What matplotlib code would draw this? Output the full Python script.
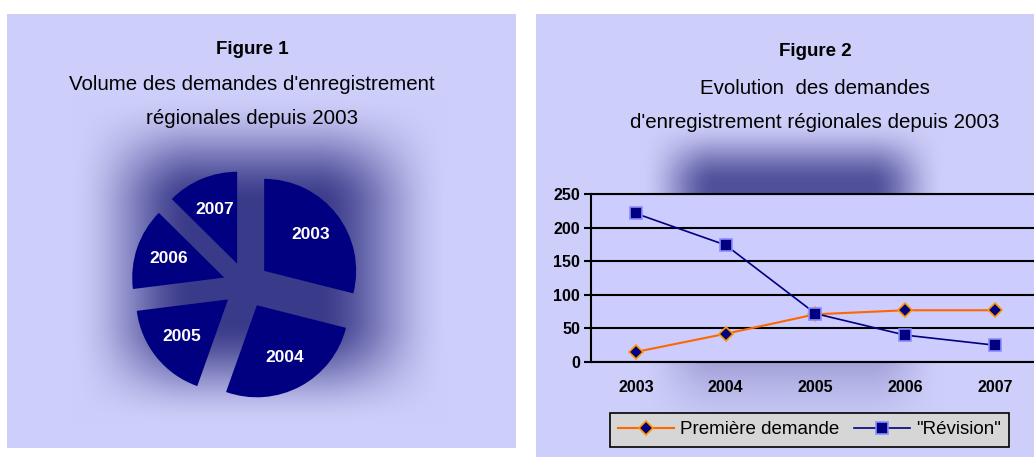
#!/usr/bin/env python3
"""Figures 1 and 2: regional registration requests since 2003."""

import matplotlib
matplotlib.use('Agg')
import matplotlib.pyplot as plt
import numpy as np

plt.rcParams['font.family'] = ['Liberation Sans', 'DejaVu Sans']

# ── Data ───────────────────────────────────────────────────────────
years = ['2003', '2004', '2005', '2006', '2007']
pie_volume = [237, 217, 144, 118, 103]
premiere = [15, 42, 71, 77, 77]
revision = [221, 174, 72, 40, 25]

W, H = 1034, 457
NAVY = '#000080'
ORANGE = '#FF6600'
LAVENDER = np.array([206, 206, 250]) / 255
DARK = np.array([58, 58, 138]) / 255


def ramp(v, o0, i0, i1, o1):
    """1 inside [i0, i1], fading to 0 at o0 / o1."""
    a = np.clip((v - o0) / (i0 - o0), 0, 1)
    b = np.clip((o1 - v) / (o1 - i1), 0, 1)
    a = a * a * (3 - 2 * a)
    b = b * b * (3 - 2 * b)
    return a * b


# ── Background with soft glows ─────────────────────────────────────
yy, xx = np.mgrid[0:H, 0:W] + 0.5
img = np.ones((H, W, 3))
glow_l = ramp(xx, 70, 195, 315, 450) * ramp(yy, 95, 205, 320, 425)
glow_r = 0.85 * ramp(xx, 640, 715, 870, 945) * ramp(yy, 120, 185, 240, 445)
for mask, glow in [((xx >= 7) & (xx <= 516) & (yy >= 14) & (yy <= 448), glow_l),
                   ((xx >= 536) & (yy >= 14), glow_r)]:
    col = LAVENDER[None, None, :] * (1 - glow[..., None]) + DARK[None, None, :] * glow[..., None]
    img[mask] = col[mask]

fig = plt.figure(figsize=(W / 100, H / 100), dpi=100)
bg = fig.add_axes([0, 0, 1, 1])
bg.imshow(img, extent=(0, W, H, 0), aspect='auto', interpolation='bilinear')
bg.set_xlim(0, W)
bg.set_ylim(H, 0)
bg.axis('off')

# ── Titles ─────────────────────────────────────────────────────────
bg.text(252, 50, 'Figure 1', ha='center', va='center', fontsize=13.5, fontweight='bold')
bg.text(252, 85, "Volume des demandes d'enregistrement", ha='center', va='center', fontsize=14.8)
bg.text(252, 118, 'régionales depuis 2003', ha='center', va='center', fontsize=14.8)
bg.text(815, 52, 'Figure 2', ha='center', va='center', fontsize=13.5, fontweight='bold')
bg.text(815, 89, 'Evolution  des demandes', ha='center', va='center', fontsize=14.8)
bg.text(815, 122, "d'enregistrement régionales depuis 2003", ha='center', va='center', fontsize=14.8)

# ── Figure 1: exploded pie ─────────────────────────────────────────
axp = fig.add_axes([0, 0, 1, 1])
axp.patch.set_alpha(0)
wedges, texts = axp.pie(pie_volume, labels=years, colors=[NAVY] * len(years),
                        startangle=90, counterclock=False,
                        center=(246, H - 285), radius=92, explode=[23] * len(years),
                        labeldistance=0.64,
                        textprops=dict(color='white', fontsize=12.5, fontweight='bold',
                                       ha='center', va='center'))
axp.set_aspect('auto')
axp.set_xlim(0, W)
axp.set_ylim(0, H)
axp.axis('off')

# ── Figure 2: lines ────────────────────────────────────────────────
x0, x1, y0, y1 = 591, W, 194, 362
ax = fig.add_axes([x0 / W, (H - y1) / H, (x1 - x0) / W, (y1 - y0) / H])
ax.set_facecolor('#CCCCFF')
x = np.arange(len(years))
l1, = ax.plot(x, premiere, color=ORANGE, lw=1.5, marker='D', ms=7,
              mfc=NAVY, mec='#FF9900', mew=1.2, label='Première demande', zorder=3)
l2, = ax.plot(x, revision, color=NAVY, lw=1.2, marker='s', ms=8,
              mfc=NAVY, mec='#8C8CFF', mew=1.2, label='"Révision"', zorder=4)
ax.set_xlim(-0.5, 4.5 - 6 / 90)
ax.set_ylim(0, 250)
ax.set_yticks([0, 50, 100, 150, 200, 250])
ax.set_xticks(x)
ax.set_xticklabels(years)
ax.grid(axis='y', color='black', lw=1.5)
ax.set_axisbelow(True)
ax.spines['right'].set_visible(False)
for s in ['left', 'bottom', 'top']:
    ax.spines[s].set_color('black')
    ax.spines[s].set_linewidth(1.5)
ax.tick_params(axis='y', length=5, width=1.5, pad=3, labelsize=11.5)
ax.tick_params(axis='x', length=0, pad=13, labelsize=11.5)
for lab in ax.get_xticklabels() + ax.get_yticklabels():
    lab.set_fontweight('bold')

leg = fig.legend(handles=[l1, l2], loc='center', ncol=2,
                 bbox_to_anchor=(809.5 / W, 1 - 429.5 / H),
                 fontsize=13.5, frameon=True, fancybox=False, framealpha=1,
                 facecolor='#D6D6D6', edgecolor='black', handlelength=3.0,
                 columnspacing=0.8, handletextpad=0.3, borderpad=0.45)
leg.get_frame().set_linewidth(1.2)

fig.savefig('out.png', dpi=100)
